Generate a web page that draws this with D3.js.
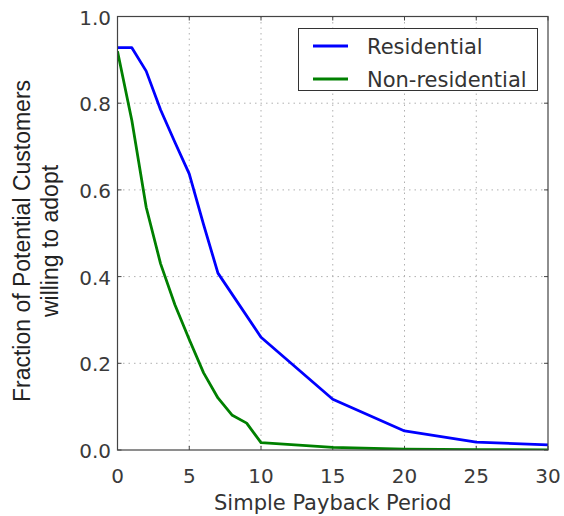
<!DOCTYPE html>
<html>
<head>
<meta charset="utf-8">
<script src="https://cdn.jsdelivr.net/npm/d3@7"></script>
<style>
  body { margin: 0; background: #fff; }
  svg { display: block; }
</style>
</head>
<body>
<svg id="chart" width="564" height="516"></svg>
<script>
// ---- data ----
const residentialX = [0, 1, 2, 3, 4, 5, 6, 7, 10, 15, 20, 25, 30];
const residentialY = [0.928, 0.928, 0.874, 0.785, 0.71, 0.637, 0.52, 0.408, 0.26, 0.117, 0.044, 0.018, 0.012];
const nonResidentialX = [0, 1, 2, 3, 4, 5, 6, 7, 8, 9, 10, 15, 20, 25, 30];
const nonResidentialY = [0.92, 0.76, 0.56, 0.43, 0.335, 0.255, 0.178, 0.12, 0.08, 0.062, 0.017, 0.006, 0.002, 0.001, 0.0];
const xTicks = [0, 5, 10, 15, 20, 25, 30];
const yTicks = [0.0, 0.2, 0.4, 0.6, 0.8, 1.0];
const seriesNames = ["Residential", "Non-residential"];
const seriesColors = ["#0000ff", "#008000"];

const svg = d3.select("#chart");
const m = { left: 117.5, top: 16.5, right: 548, bottom: 450 };
const x = d3.scaleLinear().domain([0, 30]).range([m.left, m.right]);
const y = d3.scaleLinear().domain([0, 1]).range([m.bottom, m.top]);

const tickFont = "'DejaVu Sans', sans-serif";
const textCol = "#3a3a3a";

// grid
const grid = svg.append("g");
xTicks.slice(1, -1).forEach(t => {
  grid.append("line").attr("x1", x(t)).attr("x2", x(t)).attr("y1", m.top).attr("y2", m.bottom)
    .attr("stroke", "#b0b0b0").attr("stroke-width", 1).attr("stroke-dasharray", "1.5,4");
});
yTicks.slice(1, -1).forEach(t => {
  grid.append("line").attr("x1", m.left).attr("x2", m.right).attr("y1", y(t)).attr("y2", y(t))
    .attr("stroke", "#b0b0b0").attr("stroke-width", 1).attr("stroke-dasharray", "1.5,4");
});

// inward ticks on all sides
const ticksG = svg.append("g").attr("stroke", "#444").attr("stroke-width", 1);
xTicks.forEach(t => {
  ticksG.append("line").attr("x1", x(t)).attr("x2", x(t)).attr("y1", m.bottom).attr("y2", m.bottom - 4);
  ticksG.append("line").attr("x1", x(t)).attr("x2", x(t)).attr("y1", m.top).attr("y2", m.top + 4);
});
yTicks.forEach(t => {
  ticksG.append("line").attr("x1", m.left).attr("x2", m.left + 4).attr("y1", y(t)).attr("y2", y(t));
  ticksG.append("line").attr("x1", m.right).attr("x2", m.right - 4).attr("y1", y(t)).attr("y2", y(t));
});

// lines
const line = d3.line().x(d => x(d[0])).y(d => y(d[1]));
const series = [
  residentialX.map((v, i) => [v, residentialY[i]]),
  nonResidentialX.map((v, i) => [v, nonResidentialY[i]])
];
const clip = svg.append("clipPath").attr("id", "clip").append("rect")
  .attr("x", m.left).attr("y", m.top).attr("width", m.right - m.left).attr("height", m.bottom - m.top);
series.forEach((s, i) => {
  svg.append("path").datum(s).attr("d", line)
    .attr("fill", "none").attr("stroke", seriesColors[i]).attr("stroke-width", 2.8)
    .attr("stroke-linejoin", "round").attr("clip-path", "url(#clip)");
});

// frame
svg.append("rect").attr("x", m.left).attr("y", m.top).attr("width", m.right - m.left).attr("height", m.bottom - m.top)
  .attr("fill", "none").attr("stroke", "#444").attr("stroke-width", 1.2);

// tick labels
xTicks.forEach(t => {
  svg.append("text").attr("x", x(t)).attr("y", 483).attr("text-anchor", "middle")
    .attr("font-family", tickFont).attr("font-size", 20).attr("fill", textCol).text(t);
});
yTicks.forEach(t => {
  svg.append("text").attr("x", 111).attr("y", y(t) + 8).attr("text-anchor", "end")
    .attr("font-family", tickFont).attr("font-size", 20).attr("fill", textCol).text(t.toFixed(1));
});

// axis titles
svg.append("text").attr("x", (m.left + m.right) / 2).attr("y", 510).attr("text-anchor", "middle")
  .attr("font-family", tickFont).attr("font-size", 21).attr("fill", "#333").text("Simple Payback Period");
const yt = svg.append("text").attr("transform", "translate(0,241) rotate(-90)").attr("text-anchor", "middle")
  .attr("font-family", "'Liberation Sans', Arial, sans-serif").attr("font-size", 23).attr("fill", "#222");
yt.append("tspan").attr("x", 0).attr("y", 30).text("Fraction of Potential Customers");
yt.append("tspan").attr("x", 0).attr("y", 58).text("willing to adopt");

// legend
const lg = svg.append("g");
lg.append("rect").attr("x", 298.5).attr("y", 28.5).attr("width", 239).attr("height", 62)
  .attr("fill", "#fff").attr("stroke", "#333").attr("stroke-width", 1);
seriesNames.forEach((n, i) => {
  const cy = 46 + i * 33;
  lg.append("line").attr("x1", 313).attr("x2", 348).attr("y1", cy).attr("y2", cy)
    .attr("stroke", seriesColors[i]).attr("stroke-width", 2.8);
  lg.append("text").attr("x", 367).attr("y", cy + 7.5).attr("font-family", tickFont).attr("font-size", 21)
    .attr("fill", "#333").text(n);
});
</script>
</body>
</html>
